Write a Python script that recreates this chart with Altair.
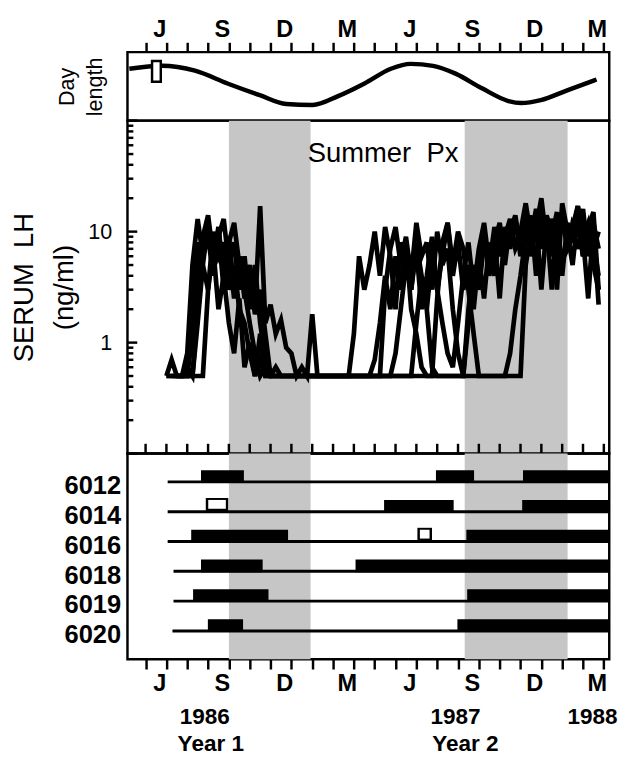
import altair as alt
import pandas as pd

FONT = "Liberation Sans"

# x axis: months since 1 Jan 1986 (5 = 1 Jun 1986)
X_LEFT, X_RIGHT = 4.13, 27.26
month_ticks = list(range(5, 28))
month_labels = {5: "J", 8: "S", 11: "D", 14: "M", 17: "J", 20: "S", 23: "D", 26: "M"}

# --- Day length panel (hours) ---
dl_month = [4.22, 5.78, 7.37, 8.93, 10.48, 11.75, 13.02, 14.24, 15.51, 16.78,
            17.72, 18.80, 19.88, 21.15, 22.42, 23.03, 23.97, 25.24, 26.65]
dl_hours = [14.73, 15.22, 14.41, 12.31, 10.38, 8.92, 8.76, 10.22, 12.31, 14.73,
            15.54, 15.22, 13.93, 11.51, 9.41, 9.09, 9.57, 11.18, 12.96]
px_box = {"start": 5.31, "end": 5.73, "lo": 12.6, "hi": 16.0}

# --- shaded periods ---
shade_from = [9.0, 20.32]
shade_to = [12.92, 25.26]

# --- Serum LH, weekly samples (step 0.25 month) ---
STEP = 0.25
lh_start = {"6012": 6.0, "6014": 6.0, "6016": 6.0, "6018": 6.5, "6019": 6.5, "6020": 6.25}
lh_values = {
    "6012": [0.5, 0.7, 0.5, 0.5, 0.5, 1.2, 4.5,
             9, 14, 6, 11, 4, 8, 12, 5, 3,
             1.5, 0.8, 0.5, 0.6, 0.5] + [0.5] * 31 +
            [2.5, 8, 12, 5, 10, 7, 3, 1.2] + [0.5] * 5 + [0.5, 0.8, 2, 4] +
            [9, 14, 4, 16, 8, 12, 3, 18, 10, 5, 14, 6, 11, 15, 3],
    "6014": [0.5, 0.5, 0.5, 0.5, 0.6, 0.5,
             1.5, 5, 3, 7, 2, 4, 1.5,
             0.8, 2.5, 0.6, 1.0, 0.5, 0.7, 0.5, 0.5] + [0.5] * 21 +
            [3, 7, 11, 5, 9, 4, 12, 6, 8, 3, 10, 5, 7, 2] + [0.8] + [0.5] * 12 +
            [5, 10, 13, 3, 11, 9, 15, 4, 12, 8, 17, 9, 2.5, 12, 7],
    "6016": [0.5, 0.5, 0.5, 0.5, 0.8,
             5, 13, 6, 9, 4, 10, 3, 7, 2.5, 6, 3, 5, 2, 17, 1.5, 2.2, 1.2, 1.6, 0.9,
             0.8, 0.5, 0.6, 0.5, 1.8] + [0.5] * 19 + [1.5, 4, 2] + [0.6] + [0.5] * 6 +
            [1.5, 3, 6, 2.5, 8, 4, 10, 5, 12, 7, 9, 14, 6, 11, 20, 8, 13, 9, 15, 7,
             12, 10, 16, 6, 11, 2.2],
    "6018": [0.5, 0.5, 0.5, 0.5, 2,
             7, 12, 4, 9, 13, 5, 8, 3, 6, 2, 5, 1.5, 0.7] + [0.5] * 16 +
            [1.2, 6, 3, 5, 10, 4, 11, 6, 2, 8, 5, 3, 7, 2, 4, 9, 3, 6, 12, 4, 8, 3, 5, 2,
             6, 10, 4, 8, 12, 6, 10, 14, 7, 11, 9, 16, 8, 12, 6, 10, 15, 7, 9, 13, 6, 10, 8, 4],
    "6019": [0.5, 0.5, 0.5,
             2, 8, 5, 12, 7, 10, 4, 9, 3, 6, 2.5, 4, 1.8, 3, 1.2] + [0.5] * 20 +
            [0.7, 1.5, 4, 2, 6, 3, 8, 2, 1.2, 0.6, 0.5] + [0.5] * 7 +
            [2, 5, 3, 8, 5, 11, 6, 9, 13, 7, 10, 18, 9, 12, 7, 14, 10, 6, 13, 8, 11, 17,
             9, 12, 7, 10],
    "6020": [0.5] * 7 + [3, 10, 6, 8, 3, 5, 2, 1.5,
             0.8, 0.5, 1.2, 0.5, 0.5, 0.6, 0.5] + [0.5] * 21 +
            [0.8, 2, 5, 3, 8, 4, 2, 6, 3, 1.5, 0.8, 0.6] +
            [1.5, 4, 8, 3, 7, 12, 5, 9, 2.5, 11, 7, 13, 6, 10, 8, 15, 9, 12, 3, 11, 14, 8,
             10, 7, 12, 9, 5, 3],
}
summer_label = {"month": 16.4, "lh": 50, "text": "Summer\u00a0\u00a0Px"}

# --- bottom panel: activity bars per animal ---
animals = ["6012", "6014", "6016", "6018", "6019", "6020"]
line_start = [6.06, 6.06, 6.06, 6.34, 6.34, 6.29]
END = 27.4
bar_animal = ["6012", "6012", "6012", "6014", "6014", "6016", "6016",
              "6018", "6018", "6019", "6019", "6020", "6020"]
bar_from = [7.66, 18.94, 23.12, 16.45, 23.08, 7.19, 20.40, 7.66, 15.08, 7.28, 20.44, 7.99, 19.97]
bar_to = [9.72, 20.77, END, 19.79, END, 11.84, END, 10.62, END, 10.90, END, 9.68, END]
open_animal = ["6014", "6016"]
open_from = [7.89, 18.05]
open_to = [8.97, 18.75]

year_month = [7.84, 19.88, 26.46]
year_text = ["1986", "1987", "1988"]
yearno_month = [8.13, 20.35]
yearno_text = ["Year 1", "Year 2"]

# ---------------- build tables ----------------
dl_df = pd.DataFrame({"month": dl_month, "hours": dl_hours})
box_df = pd.DataFrame([px_box])
shade_df = pd.DataFrame({"a": shade_from, "b": shade_to})
rows = []
for an, vals in lh_values.items():
    for i, v in enumerate(vals):
        rows.append({"animal": an, "month": lh_start[an] + STEP * i, "lh": v})
lh_df = pd.DataFrame(rows)
sum_df = pd.DataFrame([summer_label])
major = [0.1, 1, 10, 100]
minor = [m * 10 ** e for e in (-1, 0, 1) for m in range(2, 10)]
maj_df = pd.DataFrame({"v": major})
min_df = pd.DataFrame({"v": minor})
mt_df = pd.DataFrame({"m": month_ticks})
line_df = pd.DataFrame({"animal": animals, "a": line_start, "b": [END] * len(animals)})
bar_df = pd.DataFrame({"animal": bar_animal, "a": bar_from, "b": bar_to})
open_df = pd.DataFrame({"animal": open_animal, "a": open_from, "b": open_to})
yr_df = pd.DataFrame({"m": year_month, "t": year_text})
yn_df = pd.DataFrame({"m": yearno_month, "t": yearno_text})

W = 492
SHADE = "#c6c6c6"
XS = alt.Scale(domain=[X_LEFT, X_RIGHT], nice=False, zero=False)
label_expr = " : ".join([f"datum.value == {k} ? '{v}'" for k, v in month_labels.items()]) + " : ''"


def month_axis(orient, pad):
    return alt.Axis(orient=orient, values=month_ticks, labelExpr=label_expr,
                    tickSize=10, tickWidth=2.5, tickColor="black", domain=False,
                    grid=False, labelFontSize=24, labelFont=FONT, labelFontWeight="bold",
                    labelColor="black", labelOffset=14, labelPadding=pad,
                    labelOverlap=False, labelFlush=False, title=None)


TOPAX = month_axis("top", 1)
BOTAX = month_axis("bottom", 3)

# ---------------- top panel ----------------
YS_DL = alt.Scale(domain=[6.18, 17.48], nice=False, zero=False)
dl_yaxis = alt.Axis(title=["Day", "length"], ticks=False, labels=False, domain=False,
                    grid=False, titleFontSize=22, titleFont=FONT, titleFontWeight="normal",
                    titleLineHeight=29, titlePadding=21, titleColor="black")
dl_line = alt.Chart(dl_df).mark_line(color="black", strokeWidth=4.5, interpolate="monotone").encode(
    x=alt.X("month:Q", scale=XS, axis=TOPAX),
    y=alt.Y("hours:Q", scale=YS_DL, axis=dl_yaxis),
)
dl_box = alt.Chart(box_df).mark_rect(fill="white", stroke="black", strokeWidth=2.5).encode(
    x=alt.X("start:Q", scale=XS, axis=TOPAX), x2="end:Q",
    y=alt.Y("lo:Q", scale=YS_DL, axis=dl_yaxis), y2="hi:Q",
)
top = alt.layer(dl_line, dl_box).properties(width=W, height=70)

# ---------------- middle panel ----------------
YS_LH = alt.Scale(type="log", domain=[0.1, 100], nice=False)
lh_axis = alt.Axis(values=[1, 10], format="~g", ticks=False, domain=False, grid=False,
                   labelFontSize=22, labelFont=FONT, labelColor="black", labelPadding=16,
                   title=["SERUM\u00a0\u00a0LH", "(ng/ml)"], titleFontSize=28, titleFont=FONT,
                   titleFontWeight="normal", titleLineHeight=40, titlePadding=10,
                   titleColor="black")
mshade = alt.Chart(shade_df).mark_rect(color=SHADE).encode(
    x=alt.X("a:Q", scale=XS, axis=None), x2="b:Q")
mlines = alt.Chart(lh_df).mark_line(color="black", strokeWidth=4.8, strokeJoin="miter").encode(
    x=alt.X("month:Q", scale=XS, axis=None),
    y=alt.Y("lh:Q", scale=YS_LH, axis=lh_axis),
    detail="animal:N",
)
mtext = alt.Chart(sum_df).mark_text(fontSize=28, font=FONT, color="black").encode(
    x=alt.X("month:Q", scale=XS, axis=None), y=alt.Y("lh:Q", scale=YS_LH, axis=lh_axis),
    text="text:N")
mmaj = alt.Chart(maj_df).mark_rule(color="black", strokeWidth=2.5).encode(
    y=alt.Y("v:Q", scale=YS_LH, axis=lh_axis), x=alt.value(0), x2=alt.value(10))
mmin = alt.Chart(min_df).mark_rule(color="black", strokeWidth=2.5).encode(
    y=alt.Y("v:Q", scale=YS_LH, axis=lh_axis), x=alt.value(0), x2=alt.value(6))
mbt = alt.Chart(mt_df).mark_rule(color="black", strokeWidth=2.5).encode(
    x=alt.X("m:Q", scale=XS, axis=None), y=alt.value(330), y2=alt.value(340))
mid = alt.layer(mshade, mlines, mtext, mmaj, mmin, mbt).properties(width=W, height=340)

# ---------------- bottom panel ----------------
YS_AN = alt.Scale(type="point", domain=animals, padding=0.95)
an_axis = alt.Axis(ticks=False, domain=False, grid=False, labelFontSize=26, labelFont=FONT,
                   labelFontWeight="bold", labelColor="black", labelPadding=7,
                   labelOffset=4, title=None)
bshade = alt.Chart(shade_df).mark_rect(color=SHADE).encode(
    x=alt.X("a:Q", scale=XS, axis=BOTAX), x2="b:Q")
blines = alt.Chart(line_df).mark_rule(color="black", strokeWidth=3, clip=True).encode(
    x=alt.X("a:Q", scale=XS, axis=BOTAX), x2="b:Q",
    y=alt.Y("animal:N", scale=YS_AN, axis=an_axis))
bbars = alt.Chart(bar_df).mark_rule(color="black", strokeWidth=13, yOffset=-5.5, clip=True).encode(
    x=alt.X("a:Q", scale=XS, axis=BOTAX), x2="b:Q",
    y=alt.Y("animal:N", scale=YS_AN, axis=an_axis))
bopen_o = alt.Chart(open_df).mark_rule(color="black", strokeWidth=15, yOffset=-6.5).encode(
    x=alt.X("a:Q", scale=XS, axis=BOTAX), x2="b:Q",
    y=alt.Y("animal:N", scale=YS_AN, axis=an_axis))
bopen_i = alt.Chart(open_df).mark_rule(color="white", strokeWidth=9, yOffset=-7.5,
                                       xOffset=2.5, x2Offset=-2.5).encode(
    x=alt.X("a:Q", scale=XS, axis=BOTAX), x2="b:Q",
    y=alt.Y("animal:N", scale=YS_AN, axis=an_axis))
byear = alt.Chart(yr_df).mark_text(fontSize=23, font=FONT, fontWeight="bold", color="black",
                                   baseline="middle").encode(
    x=alt.X("m:Q", scale=XS, axis=BOTAX), y=alt.value(269), text="t:N")
byearno = alt.Chart(yn_df).mark_text(fontSize=23, font=FONT, fontWeight="bold", color="black",
                                     baseline="middle").encode(
    x=alt.X("m:Q", scale=XS, axis=BOTAX), y=alt.value(297), text="t:N")
bot = alt.layer(bshade, blines, bbars, bopen_o, bopen_i, byear, byearno).properties(width=W, height=210)

chart = alt.vconcat(top, mid, bot, spacing=0, bounds="flush").configure_view(
    stroke="black", strokeWidth=2.5
).properties(padding={"left": 2, "top": 0, "right": 2, "bottom": 0})

chart.save("out.html", embed_options={"renderer": "svg", "actions": False})
